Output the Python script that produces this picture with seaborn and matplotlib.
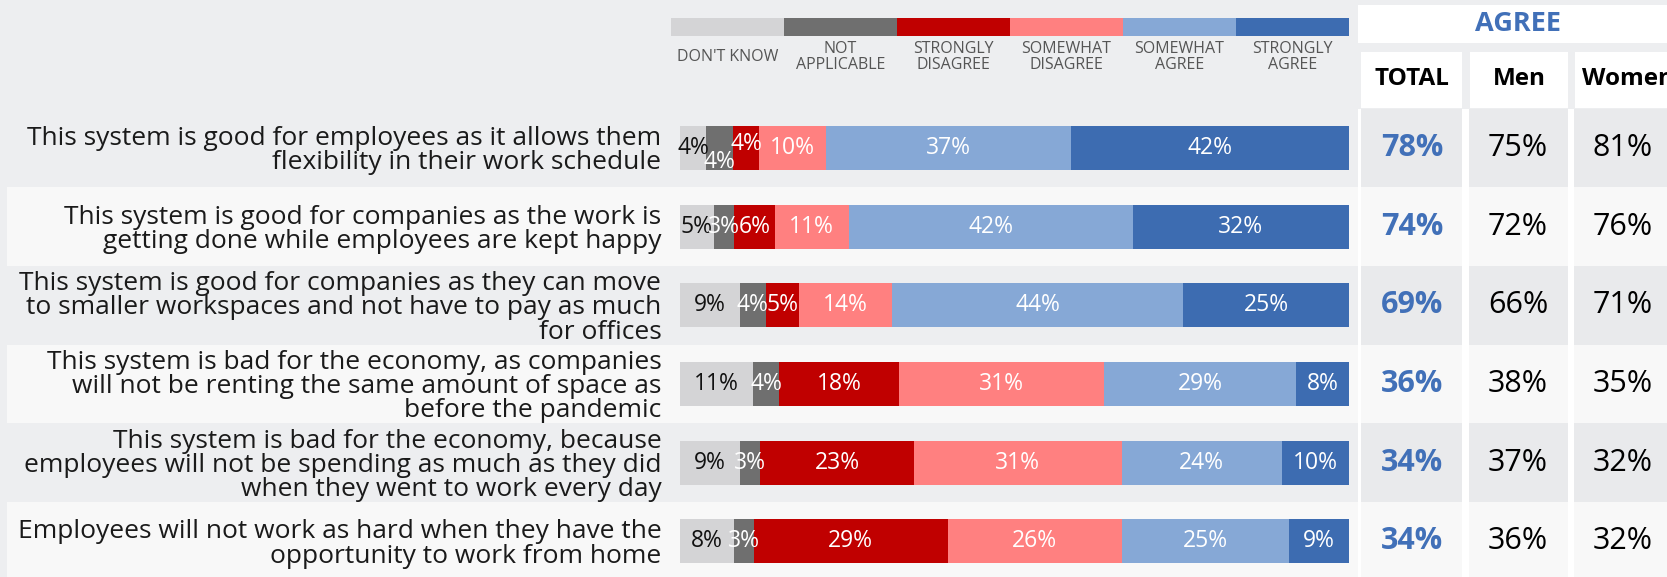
import numpy as np
import pandas as pd
import matplotlib
matplotlib.use("Agg")
import matplotlib.pyplot as plt
from matplotlib.patches import Rectangle
import seaborn as sns

# ---- survey data -------------------------------------------------------
questions = [
    "This system is good for employees as it allows them\nflexibility in their work schedule",
    "This system is good for companies as the work is\ngetting done while employees are kept happy",
    "This system is good for companies as they can move\nto smaller workspaces and not have to pay as much\nfor offices",
    "This system is bad for the economy, as companies\nwill not be renting the same amount of space as\nbefore the pandemic",
    "This system is bad for the economy, because\nemployees will not be spending as much as they did\nwhen they went to work every day",
    "Employees will not work as hard when they have the\nopportunity to work from home",
]
responses = ["DON'T KNOW", "NOT\nAPPLICABLE", "STRONGLY\nDISAGREE",
             "SOMEWHAT\nDISAGREE", "SOMEWHAT\nAGREE", "STRONGLY\nAGREE"]
dont_know = [4, 5, 9, 11, 9, 8]
not_applicable = [4, 3, 4, 4, 3, 3]
strongly_disagree = [4, 6, 5, 18, 23, 29]
somewhat_disagree = [10, 11, 14, 31, 31, 26]
somewhat_agree = [37, 42, 44, 29, 24, 25]
strongly_agree = [42, 32, 25, 8, 10, 9]

table_columns = ["TOTAL", "Men", "Women"]
agree_total = [78, 74, 69, 36, 34, 34]
agree_men = [75, 72, 66, 38, 37, 36]
agree_women = [81, 76, 71, 35, 32, 32]

# ---- styling -------------------------------------------------------------
colors = ["#d4d4d6", "#6f6f6f", "#c00000", "#ff8080", "#86a8d6", "#3d6cb1"]
label_colors = ["#111111", "white", "white", "white", "white", "white"]
BLUE = "#4170b8"
PAGE = "#edeef0"
LIGHT = "#f8f8f8"
CELL = "#e9eaec"

sns.set_theme(style="white")
plt.rcParams["font.family"] = ["Open Sans", "DejaVu Sans"]

W, H = 1667, 577
fig = plt.figure(figsize=(W / 100, H / 100), dpi=100)
fig.patch.set_facecolor(PAGE)

# layout (pixels)
row_top = 108.5
row_h = 78.7
n = len(questions)

# background / table layer in pixel coordinates
bg = fig.add_axes([0, 0, 1, 1], zorder=0)
bg.set_xlim(0, W)
bg.set_ylim(H, 0)
bg.axis("off")
bg.patch.set_alpha(0)

for i in range(n):
    y0 = row_top + i * row_h
    if i % 2 == 1:
        bg.add_patch(Rectangle((7, y0), 1351, row_h, color=LIGHT, lw=0))
    bg.add_patch(Rectangle((1358, y0), W - 1358, row_h, color="white", lw=0))

cols_x = [(1361, 1462), (1469, 1568), (1574, 1672)]
table_values = [agree_total, agree_men, agree_women]
for i in range(n):
    y0 = row_top + i * row_h
    fill = CELL if i % 2 == 0 else LIGHT
    for (x0, x1) in cols_x:
        bg.add_patch(Rectangle((x0, y0), x1 - x0, row_h, color=fill, lw=0))

# header boxes
bg.add_patch(Rectangle((1358, 5), W - 1358, 38, color="white", lw=0))
bg.text(1518, 24, "AGREE", ha="center", va="center", fontsize=19.5,
        fontweight="bold", color=BLUE)
for (x0, x1), name in zip([(1361, 1462), (1470, 1568), (1575, 1672)], table_columns):
    bg.add_patch(Rectangle((x0, 52), x1 - x0, 56, color="white", lw=0))
    bg.text((x0 + x1) / 2 + (4 if name == "Women" else 0), 79, name,
            ha="center", va="center", fontsize=17.5, fontweight="bold",
            color="black", clip_on=True)

# table values
centers_x = [1412, 1518, 1623]
for j, vals in enumerate(table_values):
    for i, v in enumerate(vals):
        yc = row_top + (i + 0.5) * row_h
        bg.text(centers_x[j], yc, f"{v}%", ha="center", va="center",
                fontsize=22, fontweight="bold" if j == 0 else "normal",
                color=BLUE if j == 0 else "black")

# legend
leg_x0, leg_w = 671, 113
for k, (name, c) in enumerate(zip(responses, colors)):
    bg.add_patch(Rectangle((leg_x0 + k * leg_w, 18), leg_w, 18, color=c, lw=0))
    bg.text(leg_x0 + (k + 0.5) * leg_w, 57, name, ha="center", va="center",
            fontsize=11.5, color="#555555", linespacing=0.95)

# ---- stacked bars ----------------------------------------------------------
series = [dont_know, not_applicable, strongly_disagree,
          somewhat_disagree, somewhat_agree, strongly_agree]
raw = np.array(series, dtype=float).T            # rows x responses
share = raw / raw.sum(axis=1, keepdims=True) * 100
cum = np.cumsum(share, axis=1)

df = pd.DataFrame(cum, columns=[r.replace("\n", " ") for r in responses])
df["question"] = questions

ax_bottom = (H - (row_top + n * row_h)) / H
ax = fig.add_axes([680 / W, ax_bottom, (1349 - 680) / W, n * row_h / H], zorder=2)
ax.patch.set_alpha(0)

for k in range(len(responses) - 1, -1, -1):
    sns.barplot(data=df, x=df.columns[k], y="question", orient="h",
                color=colors[k], saturation=1, width=0.56, errorbar=None,
                linewidth=0, ax=ax)

ax.set_xlim(0, 100)
ax.set_ylim(n - 0.5, -0.5)
ax.set_xlabel("")
ax.set_ylabel("")
ax.set_xticks([])
for s in ax.spines.values():
    s.set_visible(False)
ax.tick_params(axis="y", length=0, pad=13.5, labelsize=19, labelcolor="#1a1a1a")
for lbl in ax.get_yticklabels():
    lbl.set_linespacing(0.96)

# small nudges where neighbouring labels would collide (in row units)
nudge = {(0, 1): 0.18, (0, 2): -0.05}

for i in range(n):
    left = 0.0
    for k in range(len(responses)):
        w = share[i, k]
        ax.text(left + w / 2, i + nudge.get((i, k), 0.0), f"{int(raw[i, k])}%",
                ha="center", va="center", fontsize=16.5, color=label_colors[k])
        left += w

fig.savefig("out.png", dpi=100, facecolor=fig.get_facecolor())
